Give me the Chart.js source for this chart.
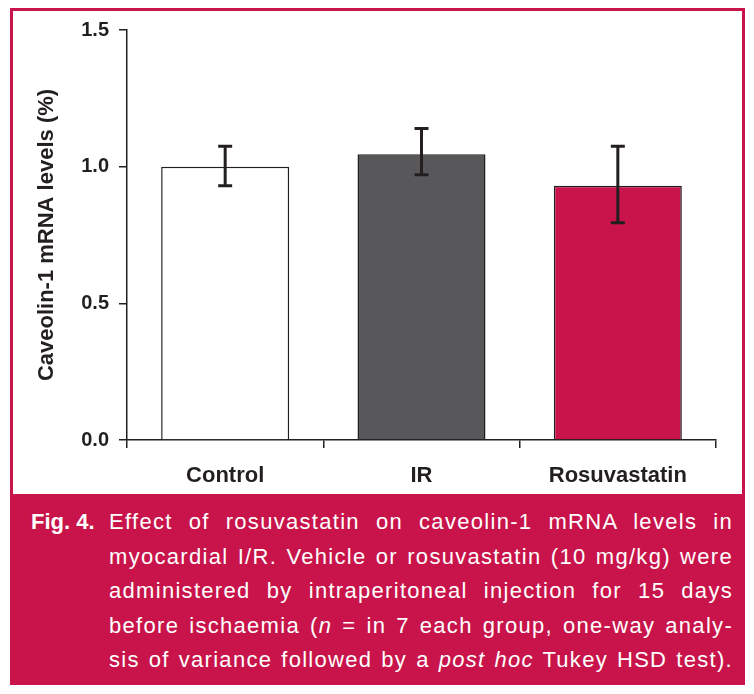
<!DOCTYPE html>
<html>
<head>
<meta charset="utf-8">
<script src="https://cdn.jsdelivr.net/npm/chart.js@4.4.1/dist/chart.umd.min.js"></script>
<style>
  html, body { margin: 0; padding: 0; background: #ffffff; }
  body { width: 754px; height: 694px; position: relative; overflow: hidden; font-family: 'Liberation Sans', Arial, sans-serif; }
  #frame {
    position: absolute; left: 10px; top: 8px; width: 735px; height: 677px;
    border: 3px solid #c8144a; box-sizing: border-box; background: #ffffff;
  }
  #chartBox { position: absolute; left: 0; top: 0; width: 754px; height: 494px; }
  #caption {
    position: absolute; left: 10px; top: 494px; width: 735px; height: 191px;
    background: #c8144a; color: #ffffff; font-size: 22px;
  }
  #figLabel { position: absolute; left: 21px; top: 11px; font-weight: bold; line-height: 34.5px; }
  #figText { position: absolute; left: 99px; top: 11px; width: 624px; line-height: 34.5px; letter-spacing: 1.3px; }
  #figText div { text-align: justify; text-align-last: justify; white-space: nowrap; }
</style>
</head>
<body>
<div id="frame"></div>
<div id="chartBox"><canvas id="myChart" width="754" height="494"></canvas></div>
<div id="caption">
  <div id="figLabel">Fig. 4.</div>
  <div id="figText">
    <div>Effect of rosuvastatin on caveolin-1 mRNA levels in</div>
    <div>myocardial I/R. Vehicle or rosuvastatin (10 mg/kg) were</div>
    <div>administered by intraperitoneal injection for 15 days</div>
    <div>before ischaemia (<i>n</i> = in 7 each group, one-way analy-</div>
    <div>sis of variance followed by a <i>post hoc</i> Tukey HSD test).</div>
  </div>
</div>
<script>
// Chart data
const categories = ['Control', 'IR', 'Rosuvastatin'];
const meanValues = [1.0, 1.045, 0.93];
const errorLow = [0.93, 0.97, 0.795];
const errorHigh = [1.075, 1.14, 1.075];
const yTicks = [0, 0.5, 1.0, 1.5];
const barColors = ['#ffffff', '#58585a', '#c8144a'];

const inkColor = '#231f20';

// Draws the error bars using the y scale
const errorBarPlugin = {
  id: 'errorBars',
  afterDatasetsDraw(chart) {
    const ctx = chart.ctx;
    const meta = chart.getDatasetMeta(0);
    const yScale = chart.scales.y;
    ctx.save();
    ctx.strokeStyle = inkColor;
    ctx.lineWidth = 3;
    meta.data.forEach((bar, i) => {
      const x = bar.x;
      const yTop = yScale.getPixelForValue(errorHigh[i]);
      const yBottom = yScale.getPixelForValue(errorLow[i]);
      ctx.beginPath();
      ctx.moveTo(x, yTop);
      ctx.lineTo(x, yBottom);
      ctx.moveTo(x - 7, yTop);
      ctx.lineTo(x + 7, yTop);
      ctx.moveTo(x - 7, yBottom);
      ctx.lineTo(x + 7, yBottom);
      ctx.stroke();
    });
    ctx.restore();
  }
};

document.addEventListener('DOMContentLoaded', () => {
  const canvas = document.getElementById('myChart');

  new Chart(canvas, {
    type: 'bar',
    data: {
      labels: categories,
      datasets: [{
        data: meanValues,
        backgroundColor: barColors,
        borderColor: inkColor,
        borderWidth: 1.5,
        barPercentage: 0.652,
        categoryPercentage: 1.0
      }]
    },
    options: {
      responsive: false,
      animation: false,
      layout: { padding: { left: 10, right: 38, top: 30, bottom: 0 } },
      plugins: {
        legend: { display: false },
        tooltip: { enabled: false }
      },
      scales: {
        x: {
          grid: {
            offset: true,
            drawOnChartArea: false,
            drawTicks: true,
            tickLength: 8,
            color: inkColor,
            lineWidth: 1.5
          },
          border: { display: true, color: inkColor, width: 1.5 },
          ticks: {
            color: inkColor,
            padding: 15,
            font: { family: "'Liberation Sans', Arial, sans-serif", size: 22, weight: 'bold' }
          },
          afterFit(scale) { scale.height = 54; }
        },
        y: {
          min: 0,
          max: 1.5,
          afterBuildTicks(scale) { scale.ticks = yTicks.map(v => ({ value: v })); },
          grid: {
            drawOnChartArea: false,
            drawTicks: true,
            tickLength: 8,
            color: inkColor,
            lineWidth: 1.5
          },
          border: { display: true, color: inkColor, width: 1.5 },
          ticks: {
            color: inkColor,
            padding: 10,
            callback: v => v.toFixed(1),
            font: { family: "'Liberation Sans', Arial, sans-serif", size: 20, weight: 'bold' }
          },
          title: {
            display: true,
            text: 'Caveolin-1 mRNA levels (%)',
            color: inkColor,
            padding: { top: 24, bottom: 0 },
            font: { family: "'Liberation Sans', Arial, sans-serif", size: 22, weight: 'bold' }
          },
          afterFit(scale) { scale.width = 117; }
        }
      }
    },
    plugins: [errorBarPlugin]
  });
});
</script>
</body>
</html>
